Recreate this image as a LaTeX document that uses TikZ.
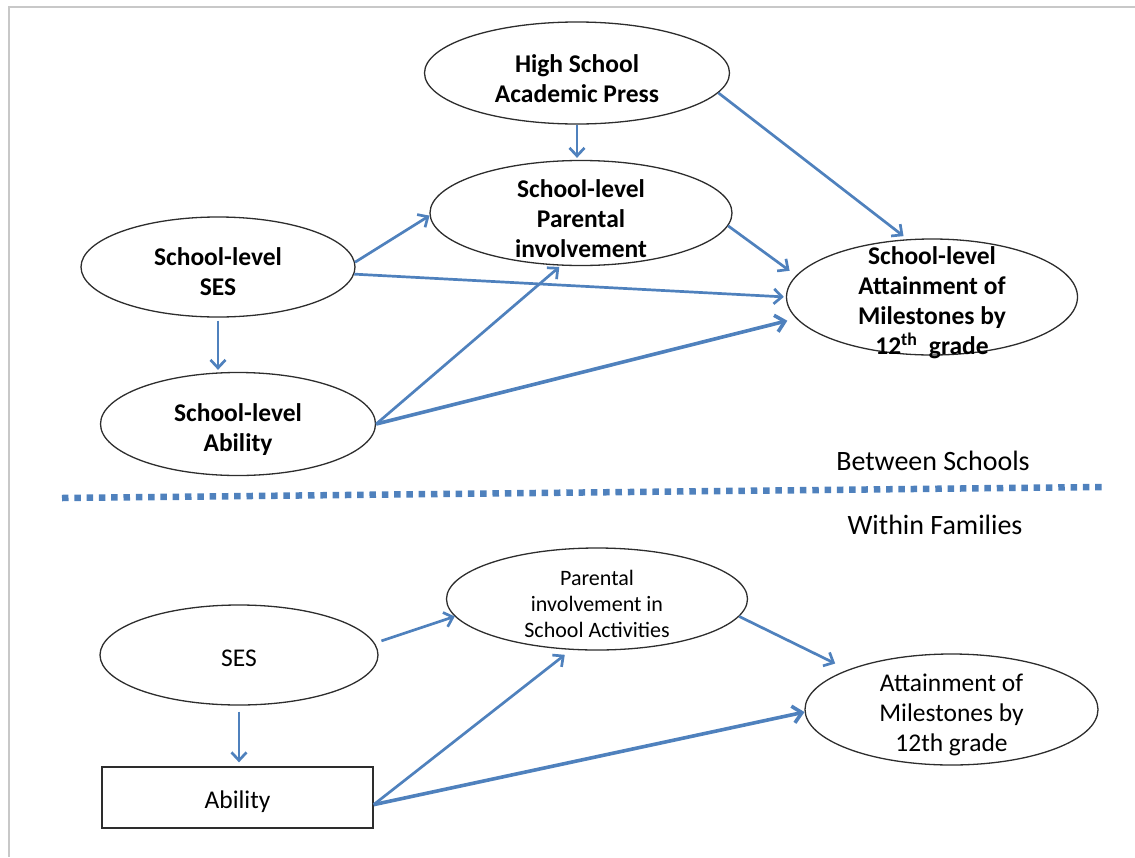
\documentclass[tikz,border=0pt]{standalone}
\usepackage{fontspec}
\setmainfont{Carlito}
\usetikzlibrary{shapes.geometric,arrows.meta,calc}
\definecolor{arrowblue}{RGB}{79,129,189}
\definecolor{framegray}{RGB}{200,200,200}
\definecolor{outlinegray}{RGB}{45,45,45}
\newcommand{\dnstrut}[1]{\rule{0pt}{#1}}
\begin{document}
\begin{tikzpicture}[x=1pt,y=-1pt,
  ell/.style={draw=outlinegray, line width=1.3pt, ellipse, inner xsep=0pt, inner ysep=-30pt, align=center, font=\fontsize{25.5}{30}\selectfont},
  bell/.style={ell, font=\fontsize{25.5}{30}\selectfont\bfseries},
  arr/.style={draw=arrowblue, line width=2.7pt, -{Straight Barb[length=8pt,width=15pt]}},
  arrthick/.style={draw=arrowblue, line width=3.6pt, -{Straight Barb[length=9pt,width=17pt]}},
  sectionlabel/.style={font=\fontsize{28}{32}\selectfont, inner sep=0pt}
]
\useasboundingbox (0,0) rectangle (1135,857);
\draw[framegray, line width=1.2pt] (1135,7) -- (9,7) -- (9,857);

% Between schools
\node[bell, minimum width=305pt, minimum height=102pt] (hs) at (577,73) {\dnstrut{29pt}High School\\Academic Press};
\node[bell, minimum width=302pt, minimum height=105pt] (pi) at (581,213) {\dnstrut{29pt}School-level\\Parental\\involvement};
\node[bell, minimum width=274pt, minimum height=100pt] (ses) at (218,267) {\dnstrut{27pt}School-level\\SES};
\node[bell, minimum width=275pt, minimum height=103pt] (ab) at (238,424) {\dnstrut{29pt}School-level\\Ability};
\node[bell, minimum width=291pt, minimum height=116pt] (at) at (932,297) {\dnstrut{29pt}School-level\\Attainment of\\Milestones by\\12\textsuperscript{th}\ \ grade};

\draw[arr, shorten >=2pt] (hs.south) -- (hs.south |- pi.north);
\draw[arr, shorten >=5pt] (hs.-8) -- (at.113);
\draw[arr] (ses.2) -- (pi.181);
\draw[arr, shorten >=2pt] (ses.-3) -- (at.180);
\draw[arr, shorten >=8pt] (pi.-5) -- (at.171);
\draw[arr, shorten <=3pt, shorten >=2pt] (ses.south) -- (ses.south |- ab.north);
\draw[arr, shorten >=2pt] (ab.east) -- (pi.249);
\draw[arrthick, shorten >=9pt] (ab.east) -- (at.189);

% separator
\node[sectionlabel] (bs) at (933,461) {Between Schools};
\coordinate (sepL) at (62,498);
\coordinate (sepR) at (1102,487);
\draw[arrowblue, line width=6.5pt, dash pattern=on 6.5pt off 5.8pt] (sepL) -- (sepR);
\node[sectionlabel] (wf) at (935,525) {Within Families};

% Within families
\node[ell, minimum width=278pt, minimum height=100pt] (ses2) at (239,655) {\dnstrut{23pt}SES};
\node[ell, font=\fontsize{22}{26}\selectfont, minimum width=301pt, minimum height=102pt] (pi2) at (597,599) {\dnstrut{26pt}Parental\\involvement in\\School Activities};
\node[draw=outlinegray, line width=1.3pt, minimum width=271pt, minimum height=61pt, inner sep=0pt, font=\fontsize{25.5}{30}\selectfont] (ab2) at (237.5,797.5) {\dnstrut{26pt}Ability};
\node[ell, minimum width=293pt, minimum height=111pt] (at2) at (951.5,709.5) {\dnstrut{28pt}Attainment of\\Milestones by\\12th grade};

\draw[arr, shorten <=7pt] (ses2.5) -- (pi2.187);
\draw[arr, shorten >=14pt] (pi2.-7) -- (at2.159);
\draw[arr, shorten <=6pt, shorten >=4pt] (ses2.south) -- (ses2.south |- ab2.north);
\draw[arr, shorten >=8pt] (ab2.-3) -- (pi2.243);
\draw[arrthick] (ab2.-3) -- (at2.181);
\end{tikzpicture}
\end{document}
